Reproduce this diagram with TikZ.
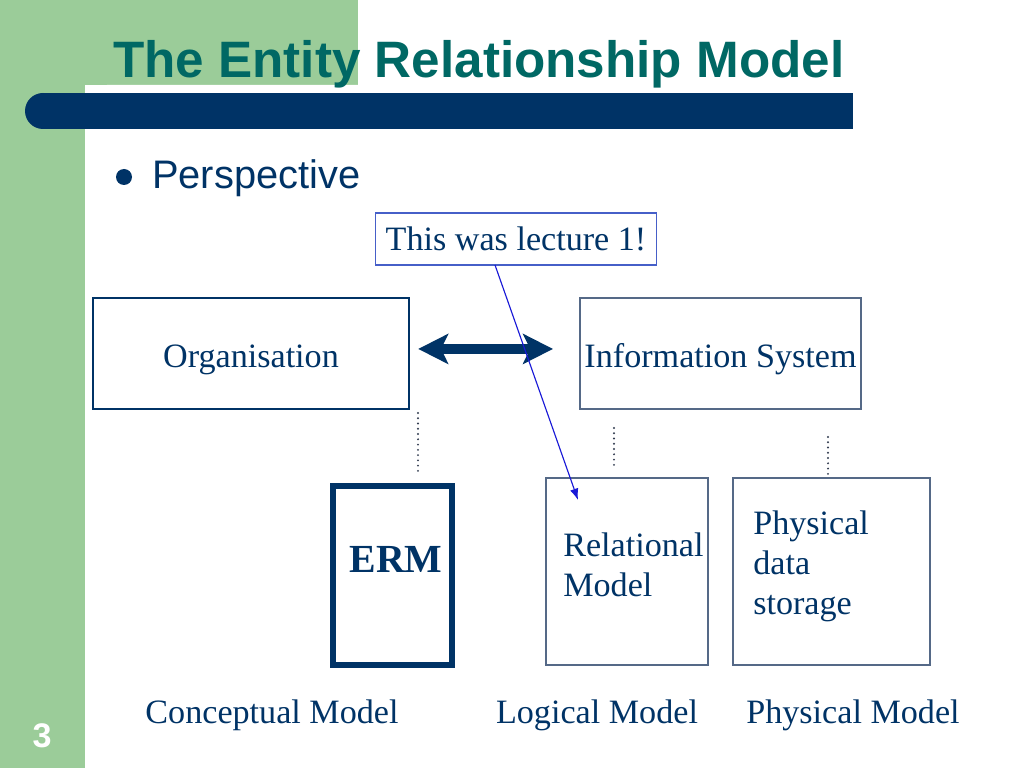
\documentclass[tikz,border=0pt]{standalone}
\usepackage{fontspec}
\setmainfont{Liberation Serif}
\newfontfamily\slidesans{Liberation Sans}
\usepackage{tikz}
\usetikzlibrary{calc}
\usetikzlibrary{arrows.meta}
\usetikzlibrary{positioning}
\usepackage{color}
\definecolor{sage}{RGB}{155, 204, 153}
\definecolor{deepteal}{RGB}{0, 104, 100}
\definecolor{navy}{RGB}{0, 51, 102}
\definecolor{slate}{RGB}{85, 105, 135}
\definecolor{dotgray}{RGB}{50, 60, 80}
\definecolor{noteblue}{RGB}{70, 95, 200}
\definecolor{pointer}{RGB}{25, 25, 215}
\newcommand{\pxu}{0.703125pt}

\tikzset{
  thinbox/.style={draw=slate, line width=0.8pt, inner sep=0pt, outer sep=0pt,
                  text=navy, font=\fontsize{24}{28.1}\selectfont},
  thickbox/.style={draw=navy, line width=3.9pt, inner sep=0pt, outer sep=0pt},
  boxtext/.style={inner sep=0pt, align=left, text=navy, font=\fontsize{24}{28.1}\selectfont},
  levellabel/.style={inner sep=0pt, anchor=base, text=navy, font=\fontsize{24}{28.1}\selectfont},
  dotline/.style={draw=dotgray, line width=1.5pt, line cap=round, dash pattern=on 0pt off 3.7pt},
  twoway/.style={draw=navy, line width=6.5pt, shorten <=6.5pt, shorten >=19pt,
                 {Stealth[length=21pt, width=21pt, inset=5pt]}-{Stealth[length=21pt, width=21pt, inset=5pt]}},
  notearrow/.style={draw=pointer, line width=0.8pt, -{Latex[length=8pt, width=6pt]}}
}

\begin{document}
\begin{tikzpicture}[x=\pxu, y=-\pxu]
            \useasboundingbox (0,0) rectangle (1024,768);
            % Slide background
            \fill[white]                                                      (0,0) rectangle (1024,768);
            \fill[sage]                                                       (0,0) rectangle (358,85);
            \fill[sage]                                                       (0,0) rectangle (85,768);
            \fill[white, rounded corners=22*\pxu] (85,768) -- (85,85) -- (1024,85) -- (1024,768) -- cycle;
            % Title bar
            \fill[navy]                                                       (43,93) rectangle (853,129);
            \fill[navy]                                                       (43,111) circle (18*\pxu);
            \node[anchor=base west, inner sep=0pt, text=deepteal,
                  font=\slidesans\bfseries\fontsize{36}{40}\selectfont] (title) at (113,78) {The Entity Relationship Model};
            % Bullet
            \fill[navy]                                                       (124,177) circle (8*\pxu);
            \node[anchor=base west, inner sep=0pt, text=navy,
                  font=\slidesans\fontsize{28}{32}\selectfont] (persp) at (152,189) {Perspective};
            \node[text=white, inner sep=0pt, font=\slidesans\bfseries\fontsize{24}{28}\selectfont] (pagenum) at (42,736) {3};
            % Top row
            \node[thinbox, draw=noteblue, minimum width=281*\pxu, minimum height=52*\pxu]  (lecture) at (516,239)   {This was lecture 1!};
            \node[thinbox, draw=navy, text height=19pt, text depth=0pt,
                  minimum width=316*\pxu, minimum height=111*\pxu] (org)  at (251,353.5)   {Organisation};
            \node[thinbox, text height=19pt, text depth=0pt,
                  minimum width=281*\pxu, minimum height=111*\pxu] (info) at (720.5,353.5) {Information System};
            \draw[twoway] ([yshift=3.2pt]org.east) -- ([yshift=3.2pt]info.west);
            % Bottom row
            \node[thickbox, minimum width=119*\pxu, minimum height=179*\pxu] (erm)  at (392.5,575.5) {};
            \node[thinbox,  minimum width=162*\pxu, minimum height=187*\pxu] (rel)  at (627,571.5)   {};
            \node[thinbox,  minimum width=197*\pxu, minimum height=187*\pxu] (phys) at (831.5,571.5) {};
            \node[inner sep=0pt, anchor=base, text=navy,
                  font=\bfseries\fontsize{28}{32}\selectfont] (ermname) at ($(erm.north)+(3.5,86)$) {ERM};
            \node[boxtext, anchor=north west] (relname)  at ($(rel.north west)+(17,55)$)  {Relational\\Model};
            \node[boxtext, anchor=north west] (physname) at ($(phys.north west)+(20,33)$) {Physical\\data\\storage};
            % Dotted links
            \draw[dotline] ($(org.south east)+(9,4)$)     -- ($(erm.north east)+(-34,-13)$);
            \draw[dotline] ($(info.south west)+(34,19)$)  -- ($(rel.north)+(-13,-13)$);
            \draw[dotline] ($(info.south east)+(-33,28)$) -- ($(phys.north)+(-3.5,-4)$);
            % Pointer from the note
            \coordinate (relpin) at ($(rel.north west)+(32,22)$);
            \draw[notearrow] ($(lecture.south)+(-21,0)$) -- (relpin);
            % Level labels
            \node[levellabel] (concept) at (272,723) {Conceptual Model};
            \node[levellabel] (logical) at (597,723) {Logical Model};
            \node[levellabel] (physic)  at (853,723) {Physical Model};
\end{tikzpicture}
\end{document}
